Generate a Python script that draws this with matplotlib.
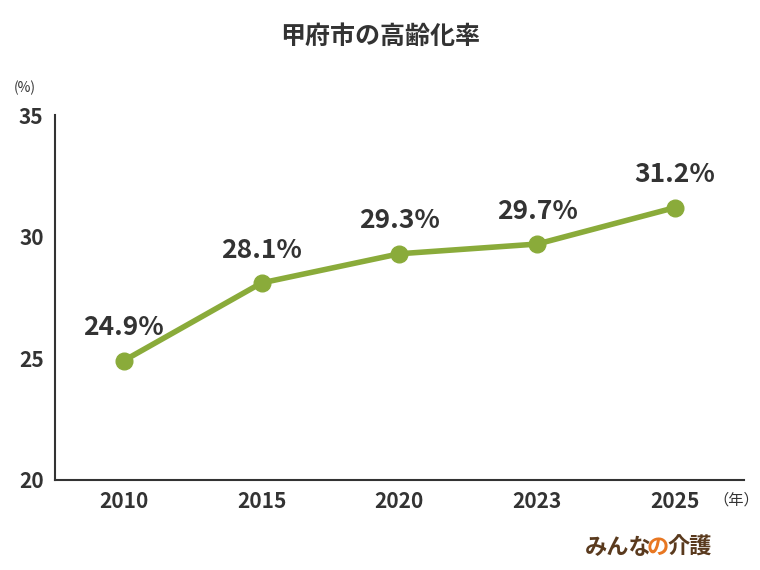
import matplotlib.pyplot as plt

plt.rcParams['font.family'] = ['Noto Sans CJK JP', 'DejaVu Sans']

years = ["2010", "2015", "2020", "2023", "2025"]
rates = [24.9, 28.1, 29.3, 29.7, 31.2]
labels = ["24.9%", "28.1%", "29.3%", "29.7%", "31.2%"]

fig = plt.figure(figsize=(7.6, 5.7), dpi=100)
ax = fig.add_axes([0.072, 0.158, 0.907, 0.640])
x = list(range(len(years)))
ax.plot(x, rates, color="#8aab3a", lw=4, marker="o", ms=12, zorder=3)
for xi, v, t in zip(x, rates, labels):
    ax.annotate(t, (xi, v), xytext=(0, 14), textcoords="offset points",
                ha="center", va="bottom", fontsize=19, fontweight="bold", color="#333333")

ax.set_xlim(-0.5, 4.5)
ax.set_ylim(20, 35)
ax.set_yticks([20, 25, 30, 35])
ax.set_xticks(x)
ax.set_xticklabels(years)
ax.tick_params(length=0, labelsize=15, colors="#333333", pad=8)
for lab in ax.get_xticklabels() + ax.get_yticklabels():
    lab.set_fontweight("bold")
for s in ["top", "right"]:
    ax.spines[s].set_visible(False)
for s in ["left", "bottom"]:
    ax.spines[s].set_color("#333333")
    ax.spines[s].set_linewidth(1.5)

fig.text(0.5, 0.935, "甲府市の高齢化率", ha="center", va="center",
         fontsize=18, fontweight="bold", color="#333333")
fig.text(0.018, 0.845, "(%)", fontsize=10, color="#333333", va="center")
fig.text(0.938, 0.122, "（年）", fontsize=11, color="#333333", va="center")
fig.text(0.77, 0.04, "みんな", fontsize=16, fontweight="bold", color="#5a3a1e", va="center")
fig.text(0.851, 0.04, "の", fontsize=16, fontweight="bold", color="#e87722", va="center")
fig.text(0.878, 0.04, "介護", fontsize=16, fontweight="bold", color="#5a3a1e", va="center")

fig.savefig("out.png", dpi=100)
